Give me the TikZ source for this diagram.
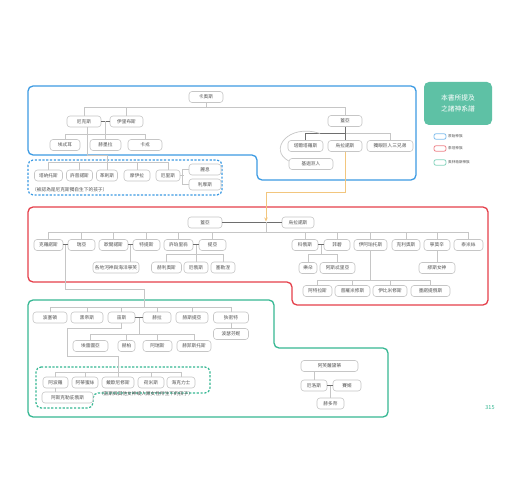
\documentclass[tikz,border=0pt]{standalone}
\usepackage{fontspec}
\setmainfont{Noto Sans CJK TC}
\usetikzlibrary{arrows.meta,calc}
\definecolor{cblue}{HTML}{3D9BE3}
\definecolor{cred}{HTML}{E5404B}
\definecolor{cgreen}{HTML}{36B893}
\definecolor{cfill}{HTML}{5EC1A5}
\definecolor{cline}{HTML}{C6C6C6}
\definecolor{cdark}{HTML}{6E6E6E}
\definecolor{cyel}{HTML}{F2C67E}
\definecolor{ctext}{HTML}{505050}
\tikzset{
  bx/.style={draw=cline, line width=0.6pt, rounded corners=3pt, fill=white, minimum height=11pt, inner sep=0pt, font=\fontsize{4.7}{5}\selectfont, text=ctext},
  ln/.style={draw=cline, line width=0.7pt},
  mar/.style={draw=cdark, line width=1pt},
  yl/.style={draw=cyel, line width=0.8pt},
  outer/.style={line width=1.3pt, rounded corners=5pt},
  dsh/.style={line width=1.2pt, rounded corners=5pt, dash pattern=on 2.2pt off 1.6pt},
  note/.style={font=\fontsize{4.7}{5}\selectfont, text=ctext, inner sep=0pt},
  legsw/.style={line width=0.8pt, rounded corners=2pt, minimum width=12pt, minimum height=5.5pt, inner sep=0pt},
  legtx/.style={font=\fontsize{3.6}{4}\selectfont, text=ctext, anchor=west, inner sep=0pt}
}
\begin{document}
\begin{tikzpicture}[x=1pt,y=-1pt]
\fill[white] (0,0) rectangle (520,500);
\useasboundingbox (0,0) rectangle (520,500);
% outer frames
\draw[outer, cblue] (28,86) -- (416,86) -- (416,180) -- (257,180) -- (257,155) -- (28,155) -- cycle;
\draw[dsh, cblue] (28,160) rectangle (222,195);
\draw[outer, cred] (28,207) -- (488,207) -- (488,305) -- (292,305) -- (292,282) -- (28,282) -- cycle;
\draw[outer, cgreen] (28,300) -- (274,300) -- (274,348) -- (388,348) -- (388,417) -- (28,417) -- cycle;
\draw[dsh, cgreen] (36,367) -- (210,367) -- (210,393) -- (93,393) -- (93,408) -- (36,408) -- cycle;

% legend
\node[fill=cfill, rounded corners=5pt, minimum width=68pt, minimum height=43pt, inner sep=0pt] (leg) at (458,103.5) {};
\node[text=white, font=\fontsize{6.8}{10.2}\selectfont, align=center, inner sep=0pt] (legt) at (leg.center) {本書所提及\\之諸神系譜};
\node[legsw, draw=cblue!65] (l1) at (440,136.5) {};
\node[legsw, draw=cred!65] (l2) at (440,148.5) {};
\node[legsw, draw=cgreen!60] (l3) at (440,162.5) {};
\node[legtx] (lt1) at (448,136.5) {原始神族};
\node[legtx] (lt2) at (448,148.5) {泰坦神族};
\node[legtx] (lt3) at (448,162.5) {奧林帕斯神族};

% ---------- primordial ----------
\node[bx, minimum width=34pt] (chaos) at (206,97) {卡奧斯};
\node[bx, minimum width=34pt] (nyx) at (84,121.5) {尼克斯};
\node[bx, minimum width=33pt] (erebus) at (126.5,121.5) {伊里布斯};
\node[bx, minimum width=30pt] (aether) at (65,145) {埃忒耳};
\node[bx, minimum width=31pt] (hemera) at (105.5,145) {赫墨拉};
\node[bx, minimum width=34pt] (charon) at (145,145) {卡戎};
\node[bx, minimum width=34pt] (gaia0) at (345,121) {蓋亞};
\node[bx, minimum width=35pt] (tartarus) at (305.5,146) {塔爾塔羅斯};
\node[bx, minimum width=34pt] (uranus0) at (345,146) {烏拉諾斯};
\node[bx, minimum width=46pt] (cyclops) at (390,146) {獨眼巨人三兄弟};
\node[bx, minimum width=44pt] (giants) at (311,164) {基迦巨人};
\node[bx, minimum width=28pt] (thanatos) at (48.5,175.5) {塔納托斯};
\node[bx, minimum width=26pt] (hypnos) at (79.5,175.5) {許普諾斯};
\node[bx, minimum width=21pt] (geras) at (107,175.5) {革剌斯};
\node[bx, minimum width=26pt] (moirai) at (137,175.5) {摩伊拉};
\node[bx, minimum width=24pt] (eris) at (168,175.5) {厄里斯};
\node[bx, minimum width=32pt] (lethe) at (205,169.5) {麗息};
\node[bx, minimum width=32pt] (limos) at (205,184.5) {利摩斯};
\node[note, anchor=west] (n1) at (32,189.5) {（被認為是尼克斯獨自生下的孩子）};

\draw[ln] (chaos.south) -- ++(0,5);
\draw[ln] (nyx.north) -- ++(0,-8) -| (gaia0.north);
\draw[ln] (erebus.north) -- ++(0,-8);
\draw[mar] (nyx.east) -- (erebus.west);
\draw[ln] (hemera.north) -- (hemera.north |- nyx.east);
\draw[ln] (aether.north) -- ++(0,-5) -| (charon.north);
\draw[ln] ([xshift=3pt]nyx.south) -- ++(0,28) -| (geras.north);
\draw[ln] (thanatos.north) -- ++(0,-7) -| (eris.north);
\draw[ln] (hypnos.north) -- ++(0,-7);
\draw[ln] (moirai.north) -- ++(0,-7);
\draw[ln] (eris.east) -- ++(4,0);
\draw[ln] (lethe.west) -- ++(-6,0) |- (limos.west);
\draw[ln] (cyclops.north) -- ++(0,-7) -| (gaia0.south);
\draw[mar] (tartarus.north) -- ++(0,-7) -| (uranus0.north);
\draw[mar] (gaia0.south) -- (uranus0.north);
\coordinate (gc) at (320,133.5);
\draw[ln] (gc) .. controls (288,123) and (268,150) .. ([yshift=3pt]giants.west);

% ---------- titans ----------
\node[bx, minimum width=34pt] (gaia1) at (205,222.5) {蓋亞};
\node[bx, minimum width=32pt] (uranus1) at (298,222.5) {烏拉諾斯};
\coordinate (ym) at (266,222.5);
\draw[yl, -{Stealth[length=4pt,width=3.5pt]}] (uranus0.south) -- ++(0,41) -| ([yshift=1pt]ym);
\draw[mar] (gaia1.east) -- (uranus1.west);
\draw[ln] (ym) -- ++(0,10.5);

\node[bx, minimum width=29pt] (cronus) at (48.5,245) {克羅諾斯};
\node[bx, minimum width=27pt] (rhea) at (81.5,245) {瑞亞};
\node[bx, minimum width=29pt] (oceanus) at (113.5,245) {歐開諾斯};
\node[bx, minimum width=27pt] (tethys) at (146.5,245) {特提斯};
\node[bx, minimum width=29pt] (hyperion) at (178.5,245) {許珀里翁};
\node[bx, minimum width=27pt] (theia) at (212.5,245) {提亞};
\node[bx, minimum width=26pt] (coeus) at (305,245) {科俄斯};
\node[bx, minimum width=26pt] (phoebe) at (337,245) {菲碧};
\node[bx, minimum width=33pt] (iapetus) at (370.5,245) {伊阿珀托斯};
\node[bx, minimum width=28pt] (crius) at (406,245) {克利奧斯};
\node[bx, minimum width=26pt] (mnemo) at (437,245) {寧莫辛};
\node[bx, minimum width=29pt] (themis) at (468.5,245) {泰米絲};

\draw[ln] (cronus.north) -- ++(0,-6.5) -| (themis.north);
\foreach \n in {rhea,oceanus,tethys,hyperion,theia,coeus,phoebe,iapetus,crius,mnemo}
  \draw[ln] (\n.north) -- ++(0,-6.5);
\draw[mar] (cronus.east) -- (rhea.west);
\draw[mar] (oceanus.east) -- (tethys.west);
\draw[mar] (hyperion.east) -- (theia.west);
\draw[mar] (coeus.east) -- (phoebe.west);

\node[bx, minimum width=46pt] (rivers) at (116,267.5) {各地河神與海洋寧芙};
\node[bx, minimum width=30pt] (helios) at (166.5,267.5) {赫利奧斯};
\node[bx, minimum width=24pt] (eos) at (196,267.5) {厄俄斯};
\node[bx, minimum width=24pt] (selene) at (223,267.5) {塞勒涅};
\node[bx, minimum width=18pt] (leto) at (308,268) {樂朵};
\node[bx, minimum width=35pt] (asteria) at (337.5,268) {阿斯忒里亞};
\node[bx, minimum width=36pt] (muses) at (437,268) {繆斯女神};
\node[bx, minimum width=29pt] (atlas) at (317.5,291) {阿特拉斯};
\node[bx, minimum width=35pt] (prometheus) at (352.5,291) {普羅米修斯};
\node[bx, minimum width=34pt] (epimetheus) at (390,291) {伊比米修斯};
\node[bx, minimum width=39pt] (menoetius) at (430.5,291) {墨諾提俄斯};

\coordinate (m1) at ($(oceanus.east)!0.5!(tethys.west)$);
\draw[ln] (m1) -- (m1 |- rivers.north);
\coordinate (m2) at ($(hyperion.east)!0.5!(theia.west)$);
\draw[ln] (m2) -- (m2 |- eos.north);
\draw[ln] (helios.north) -- ++(0,-7) -| (selene.north);
\coordinate (m3) at ($(coeus.east)!0.5!(phoebe.west)$);
\draw[ln] (m3) -- ++(0,10);
\draw[ln] (leto.north) -- ++(0,-7.5) -| (asteria.north);
\draw[ln] (iapetus.south) -- ++(0,30.5);
\draw[ln] (atlas.north) -- ++(0,-4.5) -| (menoetius.north);
\draw[ln] (prometheus.north) -- ++(0,-4.5);
\draw[ln] (epimetheus.north) -- ++(0,-4.5);
\draw[ln] (mnemo.south) -- (muses.north);

% ---------- olympians ----------
\node[bx, minimum width=34pt] (poseidon) at (50,317.5) {波塞頓};
\node[bx, minimum width=32pt] (hades) at (87,317.5) {黑帝斯};
\node[bx, minimum width=27pt] (zeus) at (121.5,317.5) {宙斯};
\node[bx, minimum width=28pt] (hera) at (157,317.5) {赫拉};
\node[bx, minimum width=32pt] (hestia) at (192,317.5) {赫斯提亞};
\node[bx, minimum width=35pt] (demeter) at (231,317.5) {狄密特};
\node[bx, minimum width=35pt] (persephone) at (231,334) {波瑟芬妮};

\coordinate (m0) at ($(cronus.east)!0.5!(rhea.west)$);
\coordinate (gb) at (144,308);
\draw[ln] (m0) -- ++(0,44) -| (gb);
\draw[ln] (poseidon.north) -- ++(0,-4.5) -| (demeter.north);
\foreach \n in {hades,zeus,hera,hestia}
  \draw[ln] (\n.north) -- ++(0,-4.5);
\draw[ln] (demeter.south) -- (persephone.north);
\draw[mar] (zeus.east) -- (hera.west);

\node[bx, minimum width=35pt] (eileithyia) at (90.5,346) {埃雷圖亞};
\node[bx, minimum width=17pt] (hebe) at (126.5,346) {赫柏};
\node[bx, minimum width=29pt] (ares) at (157.5,346) {阿瑞斯};
\node[bx, minimum width=34pt] (hephaestus) at (194,346) {赫菲斯托斯};
\coordinate (m4) at ($(zeus.east)!0.5!(hera.west)$);
\draw[ln] (m4) -- ++(0,17.5);
\draw[ln] (eileithyia.north) -- ++(0,-6) -| (hephaestus.north);
\draw[ln] (hebe.north) -- ++(0,-6);
\draw[ln] (ares.north) -- ++(0,-6);

\node[bx, minimum width=25pt] (apollo) at (55.5,382.5) {阿波羅};
\node[bx, minimum width=26pt] (artemis) at (85,382.5) {阿蒂蜜絲};
\node[bx, minimum width=32pt] (dionysus) at (118,382.5) {戴歐尼修斯};
\node[bx, minimum width=26pt] (hermes) at (151,382.5) {荷米斯};
\node[bx, minimum width=28pt] (heracles) at (181,382.5) {海克力士};
\node[bx, minimum width=51pt] (asclepius) at (67.5,397.5) {阿斯克勒庇俄斯};
\node[note] (n2) at (146,393.5) {（宙斯與其他女神或人類女性所生下的孩子）};
\draw[ln] (zeus.south) -- ++(0,5) -- ++(-54.5,0) -- ++(0,28) -| (dionysus.north);
\draw[ln] (apollo.north) -- ++(0,-4.5) -| (heracles.north);
\draw[ln] (artemis.north) -- ++(0,-4.5);
\draw[ln] (hermes.north) -- ++(0,-4.5);
\draw[ln] (apollo.south) -- (apollo.south |- asclepius.north);

\node[bx, minimum width=57pt] (aphrodite) at (329.5,366) {阿芙蘿黛蒂};
\node[bx, minimum width=26pt] (eros) at (314,385.5) {厄洛斯};
\node[bx, minimum width=28pt] (psyche) at (347,385.5) {賽姬};
\node[bx, minimum width=27pt] (hedone) at (330.5,403.5) {赫多奈};
\draw[ln] (eros.north) -- (eros.north |- aphrodite.south);
\draw[mar] (eros.east) -- (psyche.west);
\coordinate (m5) at ($(eros.east)!0.5!(psyche.west)$);
\draw[ln] (m5) -- (m5 |- hedone.north);

\node[text=cgreen, font=\fontsize{5.5}{6}\selectfont, inner sep=0pt] (page) at (490,408) {315};
\end{tikzpicture}
\end{document}
